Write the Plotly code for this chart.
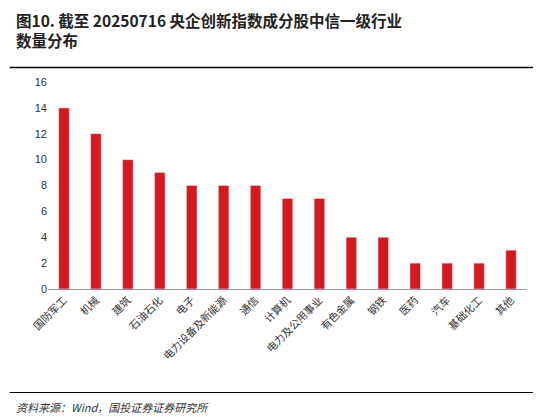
import plotly.graph_objects as go

industries = ["国防军工", "机械", "建筑", "石油石化", "电子", "电力设备及新能源", "通信",
              "计算机", "电力及公用事业", "有色金属", "钢铁", "医药", "汽车", "基础化工", "其他"]
counts = [14, 12, 10, 9, 8, 8, 8, 7, 7, 4, 4, 2, 2, 2, 3]

fig = go.Figure(go.Bar(x=industries, y=counts, marker_color="#D7191F", width=0.33))

fig.update_layout(
    width=541, height=417,
    paper_bgcolor="white", plot_bgcolor="white",
    margin=dict(l=40, r=22, t=74, b=136),
    font=dict(family="Noto Sans CJK SC", size=11, color="#333"),
    showlegend=False,
    xaxis=dict(tickangle=-45, showline=True, linecolor="#999", linewidth=1,
               ticks="", tickfont=dict(size=10.5)),
    yaxis=dict(range=[0, 16], dtick=2, showgrid=False, showline=False,
               tickfont=dict(family="Arial", size=11)),
    shapes=[
        dict(type="line", xref="paper", yref="paper", x0=-0.08, x1=1.05, y0=1.07, y1=1.07,
             line=dict(color="black", width=1.5)),
        dict(type="line", xref="paper", yref="paper", x0=-0.08, x1=1.05, y0=-0.5, y1=-0.5,
             line=dict(color="black", width=1)),
    ],
    annotations=[
        dict(text="<b>图10. 截至 20250716 央企创新指数成分股中信一级行业<br>数量分布</b>",
             xref="paper", yref="paper", x=-0.07, y=1.36, xanchor="left", yanchor="top",
             align="left", showarrow=False, font=dict(size=15.5, color="#222")),
        dict(text="<i>资料来源：Wind，国投证券证券研究所</i>",
             xref="paper", yref="paper", x=-0.07, y=-0.52, xanchor="left", yanchor="top",
             showarrow=False, font=dict(size=11, color="#333")),
    ],
)

fig.write_html("out.html")
